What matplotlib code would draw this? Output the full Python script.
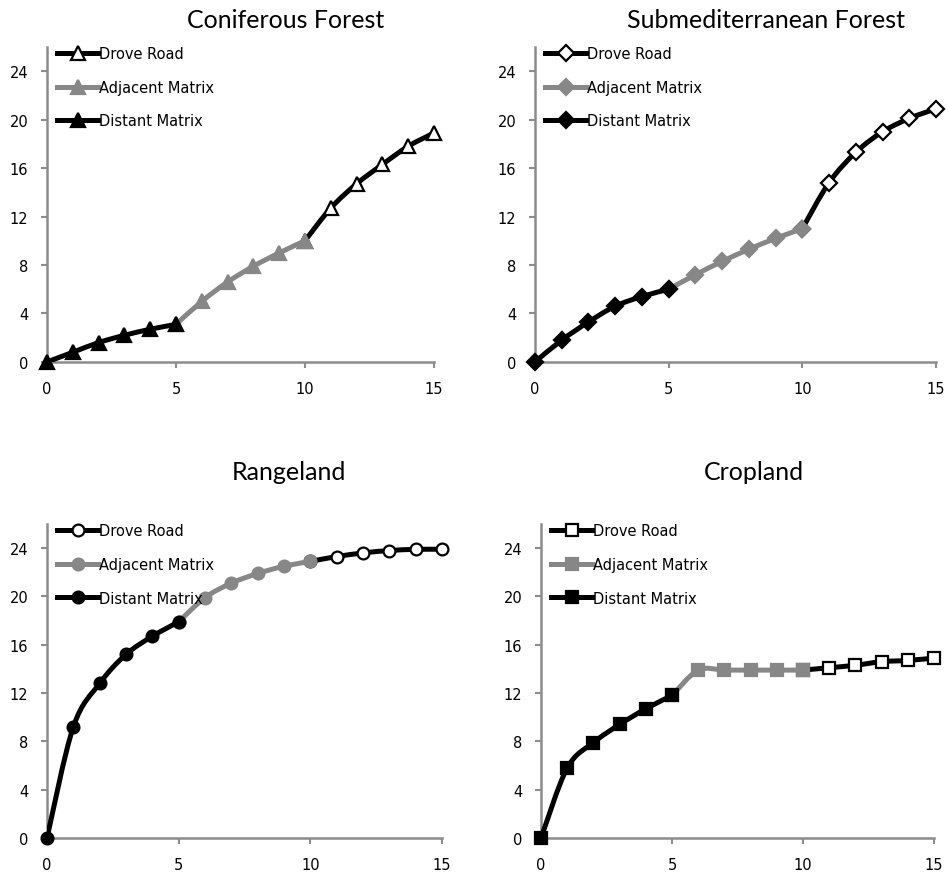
import numpy as np
import matplotlib
matplotlib.use("Agg")
import matplotlib.pyplot as plt
from matplotlib.path import Path
from matplotlib.patches import PathPatch
from matplotlib.lines import Line2D

# x positions of each land-use segment
distant_x = [0, 1, 2, 3, 4, 5]
adjacent_x = [5, 6, 7, 8, 9, 10]
drove_x = [10, 11, 12, 13, 14, 15]

titles = ["Coniferous Forest", "Submediterranean Forest", "Rangeland", "Cropland"]
legend_labels = ["Drove Road", "Adjacent Matrix", "Distant Matrix"]
markers = ["^", "D", "o", "s"]
marker_sizes = [10, 8, 8.5, 9]

# Coniferous Forest
conif_distant = [0, 0.8, 1.6, 2.2, 2.7, 3.1]
conif_adjacent = [3.1, 5.0, 6.6, 7.9, 9.0, 10.0]
conif_drove = [10.0, 12.7, 14.7, 16.3, 17.8, 18.9]

# Submediterranean Forest
subm_distant = [0, 1.8, 3.3, 4.6, 5.4, 6.0]
subm_adjacent = [6.0, 7.2, 8.3, 9.3, 10.2, 11.0]
subm_drove = [11.0, 14.8, 17.3, 19.0, 20.1, 20.9]

# Rangeland
range_distant = [0, 9.2, 12.8, 15.2, 16.7, 17.9]
range_adjacent = [17.9, 19.9, 21.1, 21.9, 22.5, 22.9]
range_drove = [22.9, 23.3, 23.6, 23.8, 23.9, 23.9]

# Cropland
crop_distant = [0, 5.8, 7.9, 9.4, 10.7, 11.8]
crop_adjacent = [11.8, 13.9, 13.9, 13.9, 13.9, 13.9]
crop_drove = [13.9, 14.1, 14.3, 14.6, 14.7, 14.9]

panel_data = [
    (conif_distant, conif_adjacent, conif_drove),
    (subm_distant, subm_adjacent, subm_drove),
    (range_distant, range_adjacent, range_drove),
    (crop_distant, crop_adjacent, crop_drove),
]

# axes rectangles (figure fraction) and title anchor positions (pixels)
axes_rects = [
    [0.0495, 0.5866, 0.4078, 0.3588],
    [0.5637, 0.5866, 0.4226, 0.3588],
    [0.0495, 0.0444, 0.4163, 0.3577],
    [0.5701, 0.0444, 0.4141, 0.3577],
]
title_pos = [(286, 20), (766, 20), (289, 473), (754, 473)]

GRAY = "#878787"
AXIS_GRAY = "#8c8c8c"


def smooth_path(xs, ys):
    # Excel style smoothed line as cubic bezier segments
    pts = np.column_stack([xs, ys]).astype(float)
    n = len(pts)
    verts = [pts[0]]
    codes = [Path.MOVETO]
    for i in range(n - 1):
        p_prev = pts[i - 1] if i > 0 else pts[i]
        p_next2 = pts[i + 2] if i + 2 < n else pts[i + 1]
        c1 = pts[i] + (pts[i + 1] - p_prev) / 6.0
        c2 = pts[i + 1] - (p_next2 - pts[i]) / 6.0
        verts += [c1, c2, pts[i + 1]]
        codes += [Path.CURVE4] * 3
    return Path(verts, codes)


fig = plt.figure(figsize=(9.49, 8.78), dpi=100)

for k in range(4):
    ax = fig.add_axes(axes_rects[k])
    distant, adjacent, drove = panel_data[k]
    mk = markers[k]
    ms = marker_sizes[k]

    # series order as in the original: drove road, adjacent, distant
    series = [
        (drove_x, drove, "black", "white", "black"),
        (adjacent_x, adjacent, GRAY, GRAY, GRAY),
        (distant_x, distant, "black", "black", "black"),
    ]
    handles = []
    z = 2
    for xs, ys, lc, fc, ec in series:
        patch = PathPatch(smooth_path(xs, ys), facecolor="none", edgecolor=lc,
                          lw=3.6, capstyle="round", joinstyle="round", zorder=z)
        ax.add_patch(patch)
        ax.plot(xs, ys, linestyle="none", marker=mk, markersize=ms,
                markerfacecolor=fc, markeredgecolor=ec, markeredgewidth=1.6,
                zorder=z + 1, clip_on=False)
        z += 2
        handles.append(Line2D([], [], color=lc, lw=3.6, marker=mk, markersize=ms,
                              markerfacecolor=fc, markeredgecolor=ec,
                              markeredgewidth=1.6))

    ax.set_xlim(0, 15)
    ax.set_ylim(0, 26)
    ax.set_xticks([0, 5, 10, 15])
    ax.set_yticks([0, 4, 8, 12, 16, 20, 24])
    for s in ["top", "right"]:
        ax.spines[s].set_visible(False)
    for s in ["left", "bottom"]:
        ax.spines[s].set_color(AXIS_GRAY)
        ax.spines[s].set_linewidth(1.8)
    ax.tick_params(axis="both", colors=AXIS_GRAY, labelcolor="black",
                   length=4.5, width=1.5, labelsize=10.5, pad=9)

    leg = ax.legend(handles, legend_labels,
                    loc="upper left", bbox_to_anchor=(0.0, 1.035), frameon=False,
                    fontsize=10.5, handlelength=2.8, handletextpad=0.05,
                    labelspacing=1.28, borderaxespad=0.3)
    leg.set_zorder(20)

    tx, ty = title_pos[k]
    fig.text(tx / 949.0, 1 - ty / 878.0, titles[k], ha="center", va="center",
             fontsize=18, family="Lato")

fig.savefig("out.png", dpi=100)
